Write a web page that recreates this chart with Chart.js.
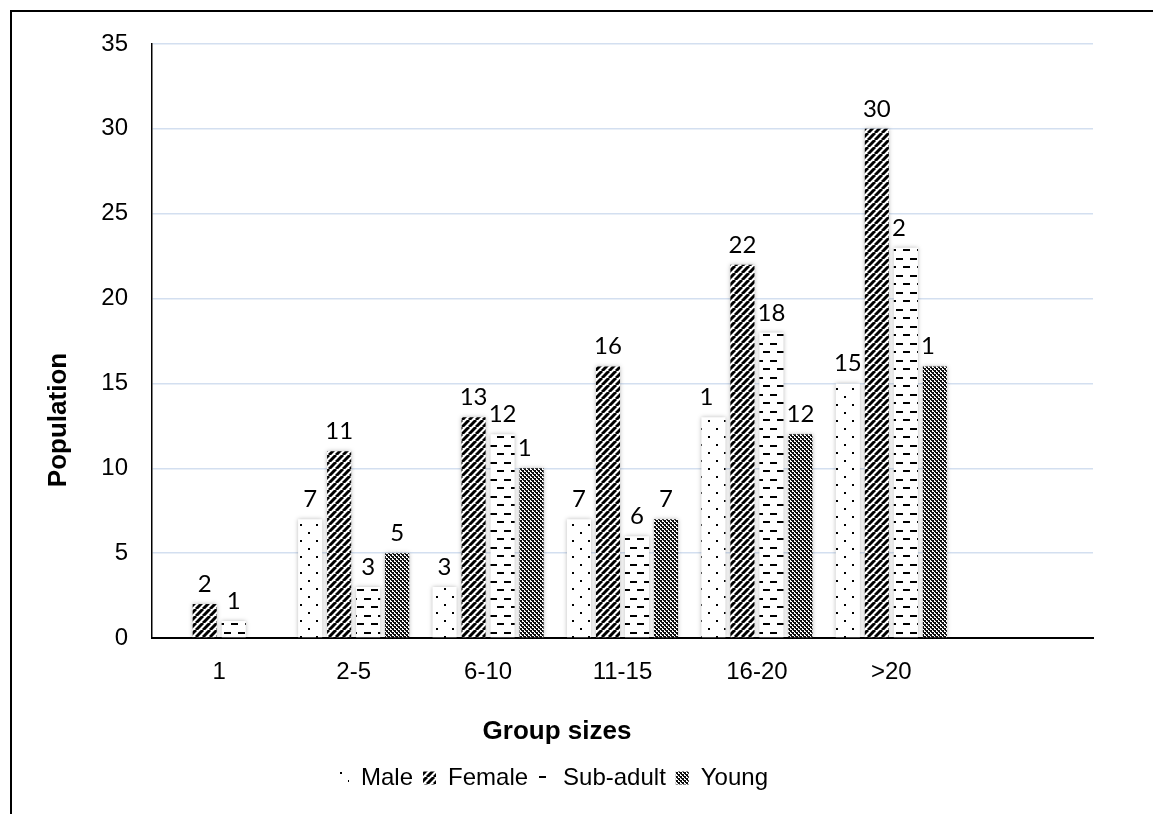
<!DOCTYPE html>
<html>
<head>
<meta charset="utf-8">
<script src="https://cdn.jsdelivr.net/npm/chart.js@4"></script>
<style>
  html, body { margin: 0; padding: 0; background: #fff; }
  #wrap { position: absolute; left: 0; top: 0; width: 1153px; height: 814px; }
</style>
</head>
<body>
<div id="wrap"><canvas id="myChart" width="1153" height="814"></canvas></div>
<script>
const groupSizes = ['1', '2-5', '6-10', '11-15', '16-20', '>20', ''];
const male     = [0, 7, 3, 7, 13, 15, null];
const female   = [2, 11, 13, 16, 22, 30, null];
const subAdult = [1, 3, 12, 6, 18, 23, null];
const young    = [0, 5, 10, 7, 12, 16, null];
// labels as printed on the chart (some are cut short in the original)
const maleText     = ['', '7', '3', '7', '1', '15', ''];
const femaleText   = ['2', '11', '13', '16', '22', '30', ''];
const subAdultText = ['1', '3', '12', '6', '18', '2', ''];
const youngText    = ['', '5', '1', '7', '12', '1', ''];
const yTicks = [0, 5, 10, 15, 20, 25, 30, 35];

const FONT = "'Liberation Sans', Arial, sans-serif";

function makePattern(w, h, draw) {
    const c = document.createElement('canvas');
    c.width = w;
    c.height = h;
    const g = c.getContext('2d');
    draw(g);
    return g.createPattern(c, 'repeat');
}

// dotted
const dotPattern = makePattern(16, 16, g => {
    g.fillStyle = '#fff';
    g.fillRect(0, 0, 16, 16);
    g.fillStyle = '#000';
    g.fillRect(4, 4, 2, 2);
    g.fillRect(12, 12, 2, 2);
});
// wide upward diagonal
const stripePattern = makePattern(7, 7, g => {
    g.fillStyle = '#fff';
    g.fillRect(0, 0, 7, 7);
    g.strokeStyle = '#000';
    g.lineWidth = 3;
    [-7, 0, 7].forEach(k => {
        g.beginPath();
        g.moveTo(k, 7);
        g.lineTo(k + 7, 0);
        g.stroke();
    });
});
// dashed horizontal
const dashPattern = makePattern(14, 17, g => {
    g.fillStyle = '#fff';
    g.fillRect(0, 0, 14, 17);
    g.fillStyle = '#000';
    g.fillRect(0, 3, 7, 2);
    g.fillRect(7, 11, 7, 2);
});
// small checker
const checkPattern = makePattern(4, 4, g => {
    g.fillStyle = '#fff';
    g.fillRect(0, 0, 4, 4);
    g.fillStyle = '#111';
    g.fillRect(0, 0, 2, 2);
    g.fillRect(2, 2, 2, 2);
    g.fillRect(1, 2, 1, 1);
    g.fillRect(3, 0, 1, 1);
});

const texts = [maleText, femaleText, subAdultText, youngText];

const framePlugin = {
    id: 'frame',
    beforeDraw(chart) {
        const ctx = chart.ctx;
        ctx.save();
        ctx.strokeStyle = '#000';
        ctx.lineWidth = 2;
        ctx.beginPath();
        ctx.moveTo(11, 814);
        ctx.lineTo(11, 11);
        ctx.lineTo(1153, 11);
        ctx.stroke();
        ctx.restore();
    },
    beforeDatasetsDraw(chart) {
        const ctx = chart.ctx;
        ctx.save();
        ctx.shadowColor = 'rgba(0,0,0,0.28)';
        ctx.shadowBlur = 4;
        ctx.shadowOffsetX = 0;
        ctx.shadowOffsetY = 0;
    },
    afterDatasetsDraw(chart) {
        const ctx = chart.ctx;
        ctx.restore();
        ctx.save();
        ctx.font = "24px Lato, 'Open Sans', sans-serif";
        ctx.fillStyle = '#000';
        ctx.textAlign = 'left';
        ctx.textBaseline = 'alphabetic';
        chart.data.datasets.forEach((ds, di) => {
            const meta = chart.getDatasetMeta(di);
            meta.data.forEach((bar, i) => {
                const t = texts[di][i];
                if (!t) return;
                const full = String(ds.data[i]);
                const w = ctx.measureText(full).width;
                ctx.fillText(t, bar.x - w / 2, bar.y - 12);
            });
        });
        ctx.restore();
    },
    afterDraw(chart) {
        const ctx = chart.ctx;
        ctx.save();
        ctx.fillStyle = '#000';
        ctx.font = 'bold 26px ' + FONT;
        ctx.textAlign = 'center';
        ctx.textBaseline = 'middle';
        ctx.fillText('Group sizes', 557, 732);
        ctx.translate(59, 420);
        ctx.rotate(-Math.PI / 2);
        ctx.fillText('Population', 0, 0);
        ctx.restore();
    }
};

new Chart(document.getElementById('myChart'), {
    type: 'bar',
    data: {
        labels: groupSizes,
        datasets: [
            { label: 'Male', data: male, backgroundColor: dotPattern },
            { label: 'Female', data: female, backgroundColor: stripePattern },
            { label: 'Sub-adult', data: subAdult, backgroundColor: dashPattern },
            { label: 'Young', data: young, backgroundColor: checkPattern }
        ]
    },
    options: {
        responsive: false,
        animation: false,
        events: [],
        datasets: {
            bar: {
                categoryPercentage: 0.863,
                barPercentage: 0.83,
                borderWidth: 0
            }
        },
        layout: {
            padding: { left: 11, top: 44, right: 60, bottom: 14 }
        },
        plugins: {
            tooltip: { enabled: false },
            legend: {
                position: 'bottom',
                labels: {
                    font: { family: FONT, size: 24 },
                    color: '#000',
                    boxWidth: 13,
                    boxHeight: 13,
                    padding: 10
                }
            }
        },
        scales: {
            x: {
                grid: { display: false, drawTicks: false },
                border: { display: true, color: '#000', width: 2 },
                ticks: {
                    font: { family: FONT, size: 24 },
                    color: '#000',
                    padding: 20,
                    maxRotation: 0,
                    autoSkip: false
                },
                afterFit(scale) { scale.height = 118; }
            },
            y: {
                min: 0,
                max: 35,
                afterBuildTicks(scale) {
                    scale.ticks = yTicks.map(v => ({ value: v }));
                },
                grid: { color: '#d3dff0', lineWidth: 1.5, drawTicks: false },
                border: { display: true, color: '#000', width: 1.5 },
                ticks: {
                    font: { family: FONT, size: 24 },
                    color: '#000',
                    padding: 24
                },
                afterFit(scale) { scale.width = 141; }
            }
        }
    },
    plugins: [framePlugin]
});
</script>
</body>
</html>
